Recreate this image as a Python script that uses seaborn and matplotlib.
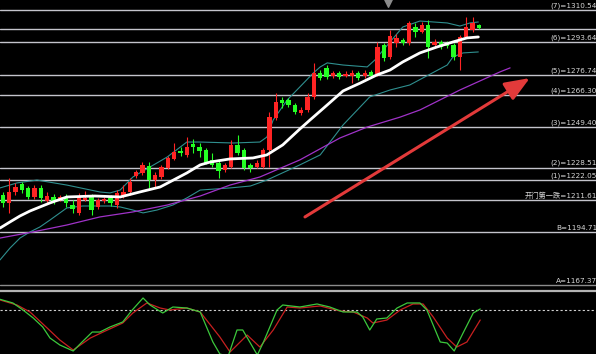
import numpy as np
import matplotlib
matplotlib.use("Agg")
import matplotlib.pyplot as plt
import seaborn as sns

# ============================
# K线数据 (开, 收, 高, 低)
# ============================
opens = [1214.2, 1210.1, 1215.8, 1220.0, 1217.9, 1213.2, 1217.9, 1211.1, 1213.2, 1212.2,
         1213.2, 1209.0, 1204.9, 1211.6, 1213.2, 1208.0, 1211.1, 1212.7, 1209.0, 1213.2,
         1215.8, 1224.1, 1225.7, 1229.3, 1222.0, 1223.6, 1228.3, 1233.0, 1237.1, 1235.1,
         1240.8, 1239.2, 1237.7, 1232.5, 1230.9, 1227.3, 1228.8, 1240.3, 1237.7, 1229.9,
         1228.8, 1228.8, 1237.7, 1254.3, 1263.7, 1263.7, 1261.1, 1256.9, 1258.5, 1265.3,
         1277.7, 1280.3, 1276.2, 1277.7, 1276.2, 1276.2, 1277.7, 1276.2, 1278.3, 1277.2,
         1292.3, 1286.1, 1293.4, 1294.9, 1293.4, 1301.7, 1299.1, 1302.7, 1292.3, 1293.9,
         1293.4, 1292.3, 1286.1, 1296.5, 1300.1, 1302.7]
closes = [1210.1, 1215.8, 1218.4, 1216.8, 1213.2, 1217.9, 1212.7, 1213.7, 1210.6, 1213.2,
          1210.1, 1206.9, 1213.2, 1212.7, 1206.4, 1211.6, 1212.2, 1210.1, 1215.3, 1215.8,
          1221.0, 1226.2, 1229.9, 1222.0, 1224.6, 1228.8, 1233.5, 1236.6, 1236.1, 1239.2,
          1239.2, 1237.1, 1230.9, 1229.9, 1226.7, 1229.9, 1240.3, 1236.1, 1228.3, 1228.3,
          1230.9, 1237.7, 1254.8, 1262.6, 1262.1, 1261.1, 1257.4, 1258.5, 1265.3, 1277.7,
          1275.1, 1275.7, 1277.7, 1275.7, 1277.2, 1277.7, 1275.1, 1277.7, 1276.2, 1291.3,
          1285.6, 1297.0, 1296.0, 1293.4, 1303.8, 1299.1, 1302.7, 1291.3, 1293.9, 1291.3,
          1291.8, 1286.1, 1296.5, 1301.7, 1303.8, 1301.2]
highs = [1215.8, 1223.1, 1220.5, 1221.0, 1218.9, 1219.4, 1219.4, 1215.8, 1214.8, 1214.2,
         1214.8, 1211.6, 1215.3, 1216.3, 1214.8, 1212.7, 1213.2, 1214.2, 1216.8, 1219.4,
         1223.1, 1227.3, 1231.4, 1231.4, 1226.2, 1229.9, 1234.5, 1241.3, 1239.2, 1244.4,
         1243.4, 1241.3, 1238.7, 1236.1, 1231.9, 1230.9, 1242.9, 1245.5, 1238.7, 1230.9,
         1232.5, 1238.7, 1257.4, 1267.3, 1265.3, 1264.7, 1262.1, 1260.1, 1267.3, 1283.0,
         1279.3, 1281.9, 1278.8, 1278.8, 1278.8, 1279.3, 1278.8, 1279.3, 1279.3, 1293.9,
         1293.4, 1300.1, 1298.0, 1296.0, 1304.8, 1303.8, 1304.3, 1305.3, 1295.4, 1294.9,
         1294.4, 1293.4, 1297.5, 1306.9, 1306.9, 1303.3]
lows = [1208.0, 1204.9, 1214.2, 1215.3, 1212.2, 1212.2, 1210.6, 1210.1, 1209.6, 1211.1,
        1208.0, 1204.9, 1203.8, 1211.1, 1203.8, 1206.9, 1210.1, 1208.5, 1207.5, 1212.7,
        1214.2, 1223.1, 1224.6, 1217.9, 1218.4, 1222.6, 1227.8, 1232.5, 1234.5, 1234.0,
        1236.1, 1234.0, 1230.4, 1228.8, 1223.1, 1226.2, 1228.3, 1235.1, 1227.3, 1226.2,
        1228.3, 1228.3, 1228.8, 1253.3, 1259.5, 1260.1, 1256.4, 1255.9, 1257.4, 1264.2,
        1274.1, 1274.6, 1275.1, 1274.6, 1275.7, 1272.5, 1274.1, 1275.1, 1275.1, 1276.2,
        1284.0, 1285.0, 1291.3, 1292.3, 1292.3, 1296.5, 1298.6, 1285.6, 1290.8, 1290.2,
        1290.8, 1284.5, 1279.3, 1296.0, 1299.1, 1300.7]

# 均线与布林带 (x 为K线序号)
mid_x = [-0.43, 1.15, 2.72, 4.3, 5.87, 7.45, 10.1, 14.5, 18.5, 21.6, 24.8, 26.3, 29.0,
         31.1, 32.7, 35.8, 39.4, 41.6, 44.1, 46.8, 48.4, 51.1, 53.6, 56.3, 58.9, 61.0,
         63.0, 65.7, 68.4, 70.9, 73.1, 74.9]
mid_y = [1197.0, 1200.2, 1203.3, 1205.9, 1208.0, 1210.1, 1213.2, 1213.7, 1213.2, 1215.8,
         1218.4, 1221.0, 1225.7, 1229.9, 1231.4, 1233.0, 1233.5, 1235.1, 1240.3, 1248.6,
         1253.3, 1261.1, 1268.4, 1272.5, 1276.7, 1279.3, 1283.5, 1288.2, 1291.3, 1293.9,
         1296.0, 1296.5]
upper_x = [-0.43, 2.25, 5.4, 10.1, 15.3, 16.9, 18.5, 20.5, 23.2, 25.9, 29.0, 31.1, 36.3,
           40.5, 41.6, 42.6, 44.8, 46.8, 48.9, 50.0, 51.1, 53.6, 57.4, 58.6, 61.0, 63.0,
           65.7, 70.0, 72.0, 73.6, 74.9]
upper_y = [1217.9, 1220.5, 1222.0, 1219.4, 1215.8, 1215.3, 1216.8, 1223.6, 1228.8, 1234.0,
           1241.8, 1241.8, 1241.3, 1241.8, 1244.4, 1253.3, 1263.7, 1270.5, 1277.7, 1280.9,
           1283.0, 1281.9, 1280.9, 1284.5, 1293.9, 1301.7, 1304.8, 1303.8, 1302.2, 1303.8,
           1304.3]
lower_x = [-0.43, 1.15, 2.72, 4.3, 5.87, 7.45, 10.1, 12.6, 16.9, 18.5, 20.5, 22.1, 24.3,
           26.8, 29.0, 31.1, 35.8, 39.0, 41.6, 46.8, 50.0, 53.6, 57.8, 61.0, 64.1, 70.0,
           70.9, 72.5, 74.9]
lower_y = [1180.4, 1186.6, 1191.8, 1195.0, 1197.6, 1201.2, 1207.5, 1208.5, 1208.5, 1208.0,
           1206.4, 1204.9, 1206.4, 1209.0, 1212.7, 1216.8, 1217.9, 1218.9, 1222.0, 1229.9,
           1235.1, 1250.7, 1265.3, 1268.9, 1271.5, 1281.9, 1286.1, 1288.2, 1288.7]
ma_long_x = [-0.43, 4.77, 10.1, 15.3, 20.5, 25.9, 31.1, 35.8, 40.5, 46.8, 53.1, 57.4,
             62.6, 65.7, 72.0, 78.3, 79.9]
ma_long_y = [1191.8, 1195.0, 1198.6, 1202.8, 1205.4, 1209.0, 1213.7, 1219.4, 1223.6,
             1232.5, 1243.9, 1249.6, 1254.8, 1258.5, 1268.9, 1278.3, 1280.4]

# 水平线
levels = [1310.54, 1300.65, 1293.64, 1276.74, 1266.30, 1249.40, 1228.51, 1222.05,
          1211.61, 1194.71, 1167.37]
level_labels = ["(7)=1310.54", "", "(6)=1293.64", "(5)=1276.74", "(4)=1266.30",
                "(3)=1249.40", "(2)=1228.51", "(1)=1222.05", "开门第一跌=1211.61",
                "B=1194.71", "A=1167.37"]

# KD 指标
k_x = [-0.43, 1.6, 3.2, 4.8, 6.3, 7.45, 9.0, 11.1, 12.5, 14.1, 15.3, 16.9, 18.9, 20.4,
       22.1, 23.2, 25.2, 26.8, 29.0, 31.1, 33.1, 34.2, 35.5, 36.9, 37.8, 40.1, 41.0,
       43.2, 44.1, 46.8, 49.5, 51.5, 53.6, 55.8, 56.7, 57.8, 58.9, 60.5, 62.1, 63.7,
       65.7, 66.8, 68.9, 70.0, 71.1, 72.5, 74.1, 75.2]
k_y = [97.8, 91.7, 80.0, 66.7, 51.7, 33.3, 21.7, 11.7, 26.7, 43.3, 43.3, 51.7, 60.0, 80.0,
       100.0, 88.3, 75.0, 85.0, 83.3, 76.7, 26.7, 6.7, 3.0, 46.7, 46.7, 5.0, 25.0,
       80.0, 88.3, 85.0, 90.0, 85.0, 76.7, 76.7, 68.3, 46.7, 65.0, 66.7, 83.3, 91.7,
       91.7, 80.0, 26.7, 25.0, 11.7, 41.7, 75.0, 81.7]
d_x = [-0.43, 2.25, 4.3, 7.0, 9.0, 11.1, 13.8, 15.8, 18.9, 20.5, 22.7, 24.8, 26.3, 29.0,
       31.1, 34.2, 35.8, 38.5, 40.5, 42.6, 44.8, 46.8, 50.0, 53.1, 55.2, 57.4, 58.3,
       60.5, 62.6, 64.6, 66.2, 67.8, 70.0, 71.5, 73.1, 75.2]
d_y = [96.7, 88.3, 76.7, 50.0, 30.0, 13.3, 33.3, 43.3, 58.3, 75.0, 91.7, 83.3, 80.0, 83.3,
       76.7, 35.0, 10.0, 38.3, 18.3, 46.7, 85.0, 83.3, 86.7, 78.3, 76.7, 66.7, 58.3,
       63.3, 80.0, 90.0, 90.0, 68.3, 33.3, 18.3, 26.7, 63.3]

sns.set_style("dark", {"axes.facecolor": "black", "figure.facecolor": "black"})
plt.rcParams['font.family'] = ['DejaVu Sans', 'Noto Sans CJK SC']

fig = plt.figure(figsize=(5.96, 3.54), dpi=100, facecolor='black')
ax = fig.add_axes([0, 61 / 354, 1, 293 / 354])
ax2 = fig.add_axes([0, 0, 1, 61 / 354])
for a in (ax, ax2):
    a.set_facecolor('black')
    a.set_xlim(-0.425, 93.43)
    a.set_xticks([])
    a.set_yticks([])
    for s in a.spines.values():
        s.set_visible(False)
ax.set_ylim(1163.2, 1315.75)
ax2.set_ylim(6.7, 108.3)

# 水平线与标签
for lvl, lab in zip(levels, level_labels):
    col = '#8c8c8c' if lab.startswith('A') else '#c4c4cc'
    ax.axhline(lvl, color=col, lw=1.0, zorder=1)
    if lab:
        ax.text(93.6, lvl + 0.7, lab, ha='right', va='bottom', fontsize=5.2,
                color='#d8d8d8', zorder=6)
ax.axhline(1164.0, color='#b4b4b4', lw=1.6, zorder=1)

# 布林带与均线
sns.lineplot(x=upper_x, y=upper_y, ax=ax, color='#2f8f8f', lw=0.8, zorder=2)
sns.lineplot(x=lower_x, y=lower_y, ax=ax, color='#2f8f8f', lw=0.8, zorder=2)
sns.lineplot(x=ma_long_x, y=ma_long_y, ax=ax, color='#a032c8', lw=0.9, zorder=2)

# K线
idx = np.arange(len(opens))
o = np.array(opens)
c = np.array(closes)
colors = np.where(c >= o, '#ff2424', '#24ff24')
ax.vlines(idx, lows, highs, colors=colors, lw=0.8, zorder=3)
ax.bar(idx, np.maximum(np.abs(c - o), 0.8), bottom=np.minimum(o, c), width=0.68,
       color=colors, linewidth=0, zorder=3)

sns.lineplot(x=mid_x, y=mid_y, ax=ax, color='white', lw=2.0, zorder=4)

# 箭头
ax.annotate("", xy=(83.0, 1275.1), xytext=(47.6, 1202.8),
            arrowprops=dict(arrowstyle='-|>,head_length=1.5,head_width=0.6',
                            color='#e23a3a', lw=2.2, mutation_scale=10,
                            shrinkA=0, shrinkB=0), zorder=5)
ax.scatter([60.7], [1314.0], marker='v', s=30, color='#8c8c8c', zorder=5)

# KD
ax2.axhline(80, color='#d0d0d0', lw=0.8, ls=(0, (2, 2)))
sns.lineplot(x=d_x, y=d_y, ax=ax2, color='#c82020', lw=0.9)
sns.lineplot(x=k_x, y=k_y, ax=ax2, color='#3cc83c', lw=0.9)
for a in (ax, ax2):
    a.set_xlabel("")
    a.set_ylabel("")

fig.savefig("out.png", dpi=100, facecolor='black')
